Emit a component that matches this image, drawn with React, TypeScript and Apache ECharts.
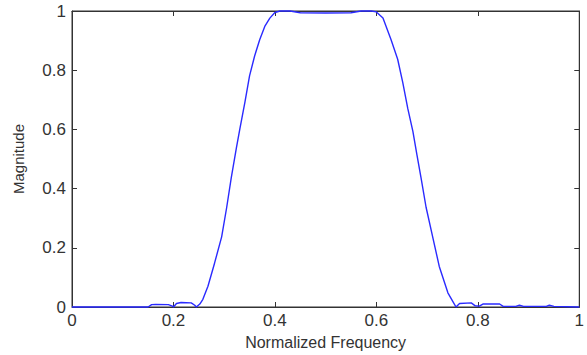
import React, { useEffect, useRef } from "react";
import * as echarts from "echarts";

const freq = [
  0, 0.05, 0.10, 0.15, 0.157, 0.165, 0.19, 0.198, 0.20, 0.206,
  0.215, 0.235, 0.242, 0.245, 0.252, 0.258, 0.268, 0.281, 0.295, 0.305,
  0.314, 0.324, 0.331, 0.341, 0.350, 0.360, 0.370, 0.380, 0.390, 0.400,
  0.410, 0.430, 0.450, 0.500, 0.550, 0.570, 0.590, 0.600, 0.613, 0.629,
  0.642, 0.652, 0.662, 0.672, 0.680, 0.688, 0.698, 0.711, 0.724, 0.741,
  0.752, 0.757, 0.764, 0.787, 0.795, 0.803, 0.810, 0.843, 0.850, 0.875,
  0.882, 0.890, 0.935, 0.941, 0.950, 1.0,
];

const magnitude = [
  0, 0, 0, 0, 0.008, 0.009, 0.008, 0.003, 0.000, 0.012,
  0.015, 0.014, 0.006, 0.000, 0.010, 0.026, 0.070, 0.148, 0.237, 0.337,
  0.437, 0.537, 0.603, 0.693, 0.781, 0.848, 0.903, 0.948, 0.976, 0.995,
  1.000, 1.000, 0.994, 0.993, 0.994, 1.000, 1.000, 0.997, 0.976, 0.903,
  0.837, 0.759, 0.670, 0.593, 0.514, 0.437, 0.337, 0.237, 0.137, 0.048,
  0.015, 0.000, 0.012, 0.014, 0.004, 0.003, 0.010, 0.010, 0.002, 0.002,
  0.006, 0.002, 0.002, 0.006, 0.002, 0.000,
];

const xLabel = "Normalized Frequency";
const yLabel = "Magnitude";

const FONT = "'Liberation Sans', Arial, Helvetica, sans-serif";
const AXIS_COLOR = "#333";
const TEXT_COLOR = "#333";

const mkLine = () => ({ show: true, onZero: false, lineStyle: { color: AXIS_COLOR, width: 1 } });
const mkTick = () => ({ show: true, inside: true, length: 5, lineStyle: { color: AXIS_COLOR, width: 1 } });

export default function App() {
  const ref = useRef<HTMLDivElement>(null);

  useEffect(() => {
    if (!ref.current) return;
    const chart = echarts.init(ref.current, undefined, { renderer: "svg" });
    const data = freq.map((f, i) => [f, magnitude[i]]);

    chart.setOption({
      animation: false,
      backgroundColor: "#fff",
      grid: {
        left: 72,
        right: 7,
        top: 11,
        bottom: 44,
        containLabel: false,
        show: true,
        borderColor: AXIS_COLOR,
        borderWidth: 1,
        backgroundColor: "transparent",
      },
      xAxis: [
        {
          type: "value",
          min: 0,
          max: 1,
          interval: 0.2,
          position: "bottom",
          name: xLabel,
          nameLocation: "middle",
          nameGap: 27,
          nameTextStyle: { fontFamily: FONT, fontSize: 16, color: TEXT_COLOR },
          axisLine: mkLine(),
          axisTick: mkTick(),
          splitLine: { show: false },
          axisLabel: { fontFamily: FONT, fontSize: 17, color: TEXT_COLOR, margin: 5 },
        },
        {
          type: "value",
          min: 0,
          max: 1,
          interval: 0.2,
          position: "top",
          axisLine: mkLine(),
          axisTick: mkTick(),
          splitLine: { show: false },
          axisLabel: { show: false },
        },
      ],
      yAxis: [
        {
          type: "value",
          min: 0,
          max: 1,
          interval: 0.2,
          position: "left",
          name: yLabel,
          nameLocation: "middle",
          nameGap: 46,
          nameTextStyle: { fontFamily: FONT, fontSize: 15, color: TEXT_COLOR },
          axisLine: mkLine(),
          axisTick: mkTick(),
          splitLine: { show: false },
          axisLabel: { fontFamily: FONT, fontSize: 17, color: TEXT_COLOR, margin: 6 },
        },
        {
          type: "value",
          min: 0,
          max: 1,
          interval: 0.2,
          position: "right",
          axisLine: mkLine(),
          axisTick: mkTick(),
          splitLine: { show: false },
          axisLabel: { show: false },
        },
      ],
      series: [
        {
          type: "line",
          data,
          xAxisIndex: 0,
          yAxisIndex: 0,
          showSymbol: false,
          symbol: "none",
          clip: false,
          lineStyle: { color: "#2a2aff", width: 1.4 },
        },
      ],
    });

    return () => chart.dispose();
  }, []);

  return (
    <div
      ref={ref}
      style={{ position: "fixed", left: 0, top: 0, width: 587, height: 355 }}
    />
  );
}
